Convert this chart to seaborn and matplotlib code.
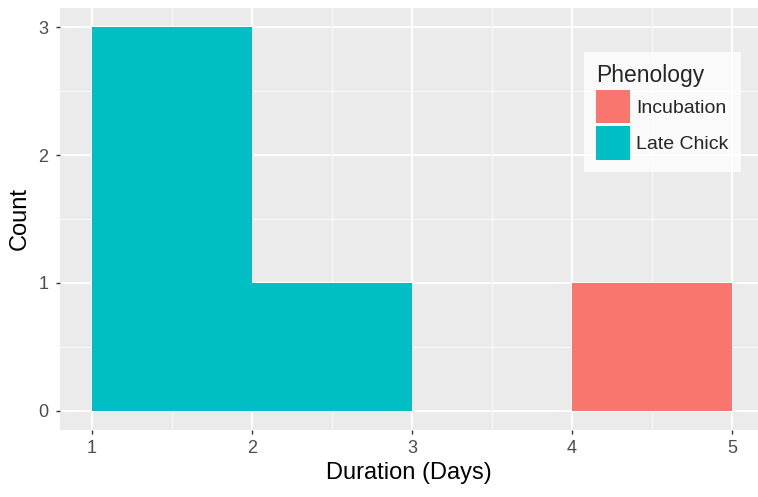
import pandas as pd
import matplotlib.pyplot as plt
import seaborn as sns
from matplotlib.patches import Patch
from matplotlib.ticker import MultipleLocator

# durations (days), one value per trip
incubation_days = [4.5]
late_chick_days = [1.3, 1.5, 1.7, 2.5]
phenology_order = ['Incubation', 'Late Chick']
phenology_colors = ['#F8766D', '#00BFC4']

df = pd.DataFrame({
    'duration': incubation_days + late_chick_days,
    'phenology': ['Incubation'] * len(incubation_days) + ['Late Chick'] * len(late_chick_days),
})

sns.set_theme(style='darkgrid')
plt.rcParams['font.family'] = ['Liberation Sans', 'DejaVu Sans']

fig = plt.figure(figsize=(7.58, 4.97), dpi=100)
ax = fig.add_axes([60 / 758, 1 - 430 / 497, 698 / 758, 422 / 497])
ax.set_facecolor('#EBEBEB')

sns.histplot(data=df, x='duration', hue='phenology', hue_order=phenology_order,
             palette=phenology_colors, binwidth=1, binrange=(1, 5),
             multiple='stack', alpha=1, linewidth=0, legend=False, ax=ax, zorder=3)

ax.set_xlim(0.8, 0.8 + 698 / 160)
ax.set_ylim(-0.15, 3.15)
ax.xaxis.set_major_locator(MultipleLocator(1))
ax.xaxis.set_minor_locator(MultipleLocator(0.5))
ax.yaxis.set_major_locator(MultipleLocator(1))
ax.yaxis.set_minor_locator(MultipleLocator(0.5))
ax.grid(which='major', color='white', linewidth=1.3, zorder=0)
ax.grid(which='minor', color='white', linewidth=0.6, zorder=0)
ax.set_axisbelow(True)
for s in ax.spines.values():
    s.set_visible(False)

ax.tick_params(axis='both', which='major', length=3, width=1, color='#333333',
               labelcolor='#4D4D4D', labelsize=13, bottom=True, left=True)
ax.tick_params(axis='x', which='major', pad=4)
ax.tick_params(axis='y', which='major', pad=5.5)
ax.tick_params(axis='both', which='minor', length=0)

ax.set_xlabel('Duration (Days)', fontsize=17, color='black', labelpad=4)
ax.set_ylabel('Count', fontsize=17, color='black', labelpad=5)

handles = [Patch(facecolor=c, edgecolor='none', label=l)
           for l, c in zip(phenology_order, phenology_colors)]
leg = fig.legend(handles=handles, title='Phenology', loc='upper left',
                 bbox_to_anchor=(584 / 758, 1 - 52 / 497), fontsize=14,
                 title_fontsize=16.5, frameon=True, fancybox=False,
                 handlelength=1.75, handleheight=2.3, handletextpad=0.35,
                 labelspacing=0.15, borderpad=0.6, borderaxespad=0,
                 alignment='left')
leg.get_frame().set_facecolor('white')
leg.get_frame().set_edgecolor('none')

fig.savefig('out.png', dpi=100)
